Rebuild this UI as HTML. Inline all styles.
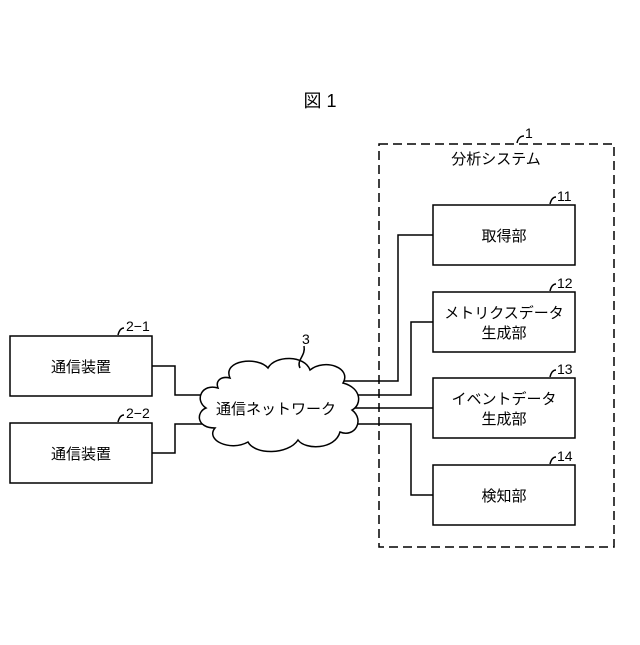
<!DOCTYPE html>
<html><head><meta charset="utf-8"><style>
body{margin:0;background:#fff}
svg text{font-family:"Liberation Sans","Noto Sans CJK JP",sans-serif;fill:#000}
</style></head><body>
<svg width="640" height="640" viewBox="0 0 640 640" xmlns="http://www.w3.org/2000/svg">
<g fill="none" stroke="#000" stroke-width="1.5">
<rect x="379" y="144" width="235" height="403" stroke-dasharray="9,5"/>
<rect x="433" y="205" width="142" height="60" fill="#fff"/>
<rect x="433" y="292" width="142" height="60" fill="#fff"/>
<rect x="433" y="378" width="142" height="60" fill="#fff"/>
<rect x="433" y="465" width="142" height="60" fill="#fff"/>
<rect x="10" y="336" width="142" height="60"/>
<rect x="10" y="423" width="142" height="60"/>
<polyline points="152,366 175,366 175,395 210,395"/>
<polyline points="152,453 175,453 175,424 208,424"/>
<polyline points="338,381 398,381 398,235 433,235"/>
<polyline points="352,395 411,395 411,322 433,322"/>
<polyline points="355,408 433,408"/>
<polyline points="352,424 411,424 411,495 433,495"/>
<path d="M230,378 C222,360 258,356 268,368 C275,355 305,355 310,370 C325,358 352,368 343,383 C362,388 362,405 352,410 C365,420 355,438 340,432 C335,450 305,450 298,440 C288,455 255,455 248,442 C230,452 205,440 215,428 C196,428 196,412 206,408 C194,400 202,383 218,388 C215,380 222,376 230,378 Z" fill="#fff"/>
<path d="M300,368 C296,360 306,356 304,346"/>
<path d="M517,143 C518,138 521,136 524,136"/>
<path d="M550,204 C551,200 553,197 556,197"/>
<path d="M550,291 C551,287 553,284 556,284"/>
<path d="M550,377 C551,373 553,370 556,370"/>
<path d="M550,464 C551,460 553,457 556,457"/>
<path d="M118,335 C119,331 121,328 124,328"/>
<path d="M118,422 C119,418 121,415 124,415"/>
</g>
<g font-size="15" text-anchor="middle">
<text x="320" y="107" font-size="18">図 1</text>
<text x="496" y="164">分析システム</text>
<text x="504" y="241">取得部</text>
<text x="504" y="318">メトリクスデータ</text>
<text x="504" y="338">生成部</text>
<text x="504" y="404">イベントデータ</text>
<text x="504" y="424">生成部</text>
<text x="504" y="501">検知部</text>
<text x="81" y="372">通信装置</text>
<text x="81" y="459">通信装置</text>
<text x="276" y="414">通信ネットワーク</text>
</g>
<g font-size="14">
<text x="525" y="138">1</text>
<text x="557" y="201">11</text>
<text x="557" y="288">12</text>
<text x="557" y="374">13</text>
<text x="557" y="461">14</text>
<text x="126" y="331">2−1</text>
<text x="126" y="418">2−2</text>
<text x="302" y="344">3</text>
</g>
</svg>
</body></html>
